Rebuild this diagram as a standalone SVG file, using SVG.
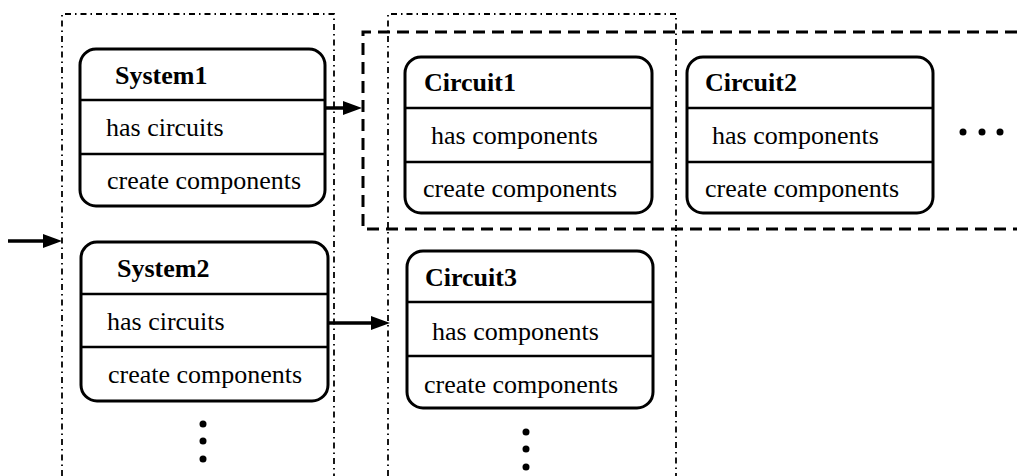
<svg xmlns="http://www.w3.org/2000/svg" width="1017" height="476" viewBox="0 0 1017 476">
<style>
.bg{fill:#fff}
.frame{fill:none;stroke:#000;stroke-width:1.8;stroke-dasharray:6 4 1.5 4}
.group{fill:none;stroke:#000;stroke-width:3;stroke-dasharray:12 7}
.box{fill:#fff;stroke:#000;stroke-width:3}
.div{stroke:#000;stroke-width:2.5}
text{font-family:'Liberation Serif','Times New Roman',serif;font-size:26px;fill:#000}
.title{font-weight:bold}
.conn{fill:none;stroke:#000;stroke-width:3.5}
.dot{fill:#000}
</style>
<defs>
<marker id="ah" markerUnits="userSpaceOnUse" markerWidth="20" markerHeight="14" refX="14" refY="7" orient="auto">
<path d="M0,0 L19,7 L0,14 Z" fill="#000"/>
</marker>
</defs>
<rect class="bg" x="0" y="0" width="1017" height="476"/>

<g id="frame-systems">
<path class="frame" d="M62,476 L62,14 L334,14 L334,476"/>
</g>
<g id="frame-circuits">
<path class="frame" d="M388,476 L388,14 L676,14 L676,476"/>
</g>
<g id="group-circuits">
<path class="group" d="M1017,32 L363,32 L363,229 L1017,229"/>
</g>

<g id="system1">
<rect class="box" x="80" y="49" width="245" height="157" rx="16"/>
<line class="div" x1="80" y1="100" x2="326" y2="100"/>
<line class="div" x1="80" y1="154" x2="326" y2="154"/>
<text class="title" x="115" y="84">System1</text>
<text x="106" y="136">has circuits</text>
<text x="107" y="189">create components</text>
</g>

<g id="system2">
<rect class="box" x="81" y="242" width="247" height="159" rx="16"/>
<line class="div" x1="81" y1="294" x2="329" y2="294"/>
<line class="div" x1="81" y1="347" x2="329" y2="347"/>
<text class="title" x="117" y="277">System2</text>
<text x="107" y="330">has circuits</text>
<text x="108" y="383">create components</text>
</g>

<g id="circuit1">
<rect class="box" x="405" y="57" width="247" height="156" rx="16"/>
<line class="div" x1="405" y1="108" x2="653" y2="108"/>
<line class="div" x1="405" y1="162" x2="653" y2="162"/>
<text class="title" x="424" y="91">Circuit1</text>
<text x="431" y="144">has components</text>
<text x="423" y="197">create components</text>
</g>

<g id="circuit2">
<rect class="box" x="687" y="57" width="246" height="156" rx="16"/>
<line class="div" x1="687" y1="108" x2="934" y2="108"/>
<line class="div" x1="687" y1="162" x2="934" y2="162"/>
<text class="title" x="705" y="91">Circuit2</text>
<text x="712" y="144">has components</text>
<text x="705" y="197">create components</text>
</g>

<g id="circuit3">
<rect class="box" x="407" y="251" width="246" height="157" rx="16"/>
<line class="div" x1="407" y1="302" x2="654" y2="302"/>
<line class="div" x1="407" y1="356" x2="654" y2="356"/>
<text class="title" x="425" y="286">Circuit3</text>
<text x="432" y="340">has components</text>
<text x="424" y="393">create components</text>
</g>

<g id="ellipses">
<circle class="dot" cx="203" cy="424" r="3.5"/>
<circle class="dot" cx="203" cy="441" r="3.5"/>
<circle class="dot" cx="203" cy="459" r="3.5"/>
<circle class="dot" cx="526" cy="432" r="3.5"/>
<circle class="dot" cx="526" cy="449" r="3.5"/>
<circle class="dot" cx="526" cy="467" r="3.5"/>
<circle class="dot" cx="963" cy="132" r="3.5"/>
<circle class="dot" cx="982" cy="132" r="3.5"/>
<circle class="dot" cx="1000" cy="132" r="3.5"/>
</g>

<g id="connectors">
<path class="conn" d="M8,241 L57,241" marker-end="url(#ah)"/>
<path class="conn" d="M326,108 L357,108" marker-end="url(#ah)"/>
<path class="conn" d="M328,323 L385,323" marker-end="url(#ah)"/>
</g>
</svg>
